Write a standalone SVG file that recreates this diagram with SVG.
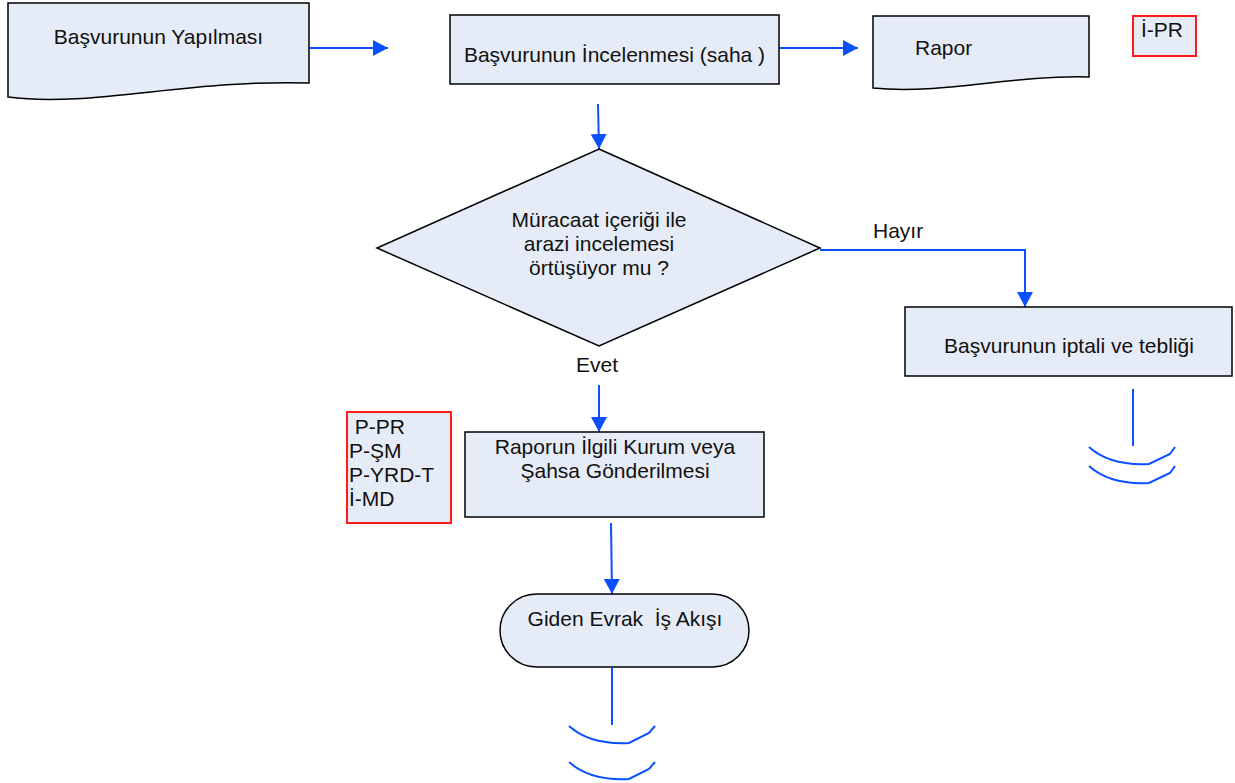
<svg xmlns="http://www.w3.org/2000/svg" width="1235" height="783" viewBox="0 0 1235 783">
<style>
.shape{fill:#E6ECF7;stroke:#000;stroke-width:1.5}
.red{fill:#E6ECF7;stroke:#FF1A1A;stroke-width:2}
.conn{fill:none;stroke:#0A50FF;stroke-width:2}
.t{font-family:"Liberation Sans",Arial,sans-serif;font-size:21px;fill:#111}
.m{text-anchor:middle}
</style>
<defs>
<marker id="ah" markerUnits="userSpaceOnUse" markerWidth="16" markerHeight="16" viewBox="0 0 16 16" refX="15" refY="8" orient="auto">
<path d="M0,0 L15,8 L0,16 Z" fill="#0A50FF"/>
</marker>
</defs>
<rect width="1235" height="783" fill="#fff"/>

<g id="connectors">
<line class="conn" x1="309" y1="48" x2="388" y2="48" marker-end="url(#ah)"/>
<line class="conn" x1="779" y1="48" x2="858" y2="48" marker-end="url(#ah)"/>
<line class="conn" x1="598" y1="104" x2="599" y2="149" marker-end="url(#ah)"/>
<polyline class="conn" points="820,250 1025,250 1025,307" marker-end="url(#ah)"/>
<line class="conn" x1="599" y1="385" x2="599" y2="432" marker-end="url(#ah)"/>
<line class="conn" x1="611" y1="523" x2="612" y2="594" marker-end="url(#ah)"/>
<text class="t" x="873" y="238">Hayır</text>
<text class="t" x="576" y="372">Evet</text>
</g>

<g id="n1">
<path class="shape" d="M8,3 L309,3 L309,83 C190,79 90,108 8,97 Z"/>
<text class="t m" x="158.5" y="44">Başvurunun Yapılması</text>
</g>

<g id="n2">
<rect class="shape" x="450" y="15" width="329" height="69" stroke="#333"/>
<text class="t m" x="614.5" y="62">Başvurunun İncelenmesi (saha )</text>
</g>

<g id="n3">
<path class="shape" d="M873,16 L1089,16 L1089,77 C1010,75 940,95 873,88 Z"/>
<text class="t" x="915" y="55">Rapor</text>
</g>

<g id="n4">
<rect class="red" x="1133" y="16" width="63" height="40"/>
<text class="t" x="1141" y="37">İ-PR</text>
</g>

<g id="n5">
<polygon class="shape" points="599,149 820,248 599,346 377,248"/>
<text class="t m" x="599" y="227">Müracaat içeriği ile</text>
<text class="t m" x="599" y="251">arazi incelemesi</text>
<text class="t m" x="599" y="275">örtüşüyor mu ?</text>
</g>

<g id="n6">
<rect class="shape" x="905" y="307" width="327" height="69"/>
<text class="t m" x="1069" y="353">Başvurunun iptali ve tebliği</text>
</g>

<g id="n7">
<line class="conn" x1="1133" y1="389" x2="1133" y2="446"/>
<path class="conn" d="M1089,447 Q1110,466 1149,464 L1170,454 L1175,447"/>
<path class="conn" d="M1089,466 Q1110,485 1149,483 L1170,473 L1175,466"/>
</g>

<g id="n8">
<rect class="red" x="347" y="412" width="104" height="111"/>
<text class="t" x="349" y="434" xml:space="preserve"> P-PR</text>
<text class="t" x="349" y="458">P-ŞM</text>
<text class="t" x="349" y="482">P-YRD-T</text>
<text class="t" x="349" y="506">İ-MD</text>
</g>

<g id="n9">
<rect class="shape" x="465" y="432" width="299" height="85"/>
<text class="t m" x="615" y="454">Raporun İlgili Kurum veya</text>
<text class="t m" x="615" y="478">Şahsa Gönderilmesi</text>
</g>

<g id="n10">
<rect class="shape" x="500" y="594" width="249" height="73" rx="36.5" ry="36.5"/>
<text class="t m" x="625" y="626" xml:space="preserve">Giden Evrak  İş Akışı</text>
</g>

<g id="n11">
<line class="conn" x1="612" y1="667" x2="612" y2="725"/>
<path class="conn" d="M569,726 Q590,745 629,743 L649,733 L655,726"/>
<path class="conn" d="M569,762 Q590,781 629,779 L649,769 L655,762"/>
</g>
</svg>
